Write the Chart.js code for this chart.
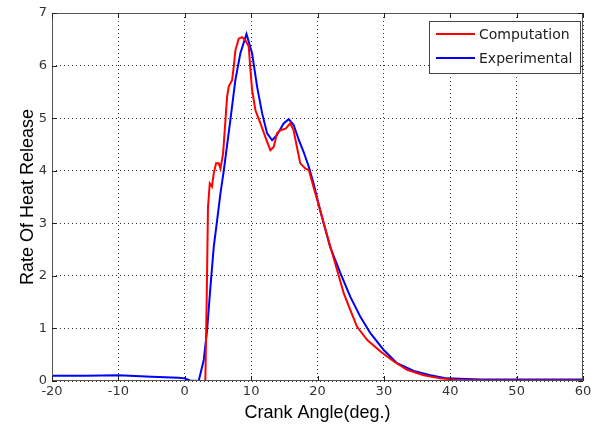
<!DOCTYPE html>
<html>
<head>
<meta charset="utf-8">
<script src="https://cdn.jsdelivr.net/npm/chart.js@4/dist/chart.umd.min.js"></script>
<style>
  html, body { margin: 0; padding: 0; background: #fff; }
  #wrap { width: 601px; height: 428px; }
</style>
</head>
<body>
<div id="wrap"><canvas id="c" width="601" height="428"></canvas></div>
<script>
// crank angle (deg) and rate of heat release
const compAngle = [1.5, 3.1, 3.3, 3.5, 3.77, 4.1, 4.37, 4.72, 5.13, 5.38, 5.78, 6.13, 6.38, 6.63, 7.13, 7.38, 7.63, 8.13, 8.64, 9.14, 9.64, 9.9, 10.15, 10.65, 11.4, 12.15, 12.9, 13.4, 13.9, 14.4, 15.2, 15.9, 16.4, 16.9, 17.4, 18.2, 18.7, 19.4, 20.4, 21.5, 22.95, 23.95, 24.95, 25.96, 27.5, 29.5, 31.5, 33.5, 36, 38.5, 41, 45, 50, 55, 60];
const compRate  = [0, 0, 1.5, 3.3, 3.76, 3.7, 3.95, 4.14, 4.14, 4.04, 4.33, 4.96, 5.41, 5.6, 5.72, 5.98, 6.29, 6.51, 6.54, 6.48, 6.36, 5.91, 5.53, 5.15, 4.9, 4.64, 4.39, 4.45, 4.71, 4.77, 4.8, 4.9, 4.77, 4.45, 4.14, 4.04, 4.01, 3.69, 3.25, 2.75, 2.11, 1.67, 1.35, 1.03, 0.78, 0.56, 0.37, 0.21, 0.11, 0.05, 0.02, 0.01, 0.01, 0.01, 0.01];

const expAngle = [-20, -15, -10, -5, -1, 0, 0.8, 2.1, 2.86, 3.37, 3.87, 4.37, 4.88, 5.38, 5.88, 6.87, 7.62, 8.37, 9.3, 10.15, 10.9, 11.66, 12.41, 13.16, 13.9, 14.9, 15.66, 16.41, 17.2, 17.9, 18.7, 19.4, 20.4, 21.9, 23.45, 24.95, 26.46, 27.97, 29.97, 31.98, 34.5, 37, 39.5, 44.5, 50, 55, 60];
const expRate  = [0.1, 0.1, 0.11, 0.08, 0.06, 0.05, 0.01, 0, 0.4, 0.97, 1.79, 2.55, 3.06, 3.57, 4.0, 4.96, 5.72, 6.23, 6.6, 6.23, 5.6, 5.09, 4.71, 4.58, 4.68, 4.9, 4.98, 4.87, 4.58, 4.36, 4.07, 3.76, 3.25, 2.55, 2.05, 1.6, 1.22, 0.91, 0.59, 0.34, 0.19, 0.11, 0.05, 0.03, 0.03, 0.03, 0.03];

const seriesNames = ["Computation", "Experimental"];
const seriesColors = ["#ff0000", "#0000ff"];

const xTicks = [-20, -10, 0, 10, 20, 30, 40, 50, 60];
const yTicks = [0, 1, 2, 3, 4, 5, 6, 7];

function toPoints(xs, ys) {
    return xs.map((x, i) => ({ x: x, y: ys[i] }));
}

const FONT = "'DejaVu Sans', sans-serif";
const TITLE_FONT = "'Liberation Sans', Arial, sans-serif";

// frame, inward tick marks and the boxed legend
const framePlugin = {
    id: "frame",
    afterDraw(chart) {
        const { ctx, chartArea: a, scales } = chart;
        ctx.save();
        ctx.strokeStyle = "#555";
        ctx.lineWidth = 1;
        ctx.strokeRect(a.left + 0.5, a.top + 0.5, a.right - a.left - 1, a.bottom - a.top - 1);
        ctx.strokeStyle = "#222";
        ctx.beginPath();
        xTicks.forEach(v => {
            const px = Math.round(scales.x.getPixelForValue(v)) + 0.5;
            ctx.moveTo(px, a.bottom); ctx.lineTo(px, a.bottom - 5);
            ctx.moveTo(px, a.top); ctx.lineTo(px, a.top + 5);
        });
        yTicks.forEach(v => {
            const py = Math.round(scales.y.getPixelForValue(v)) + 0.5;
            ctx.moveTo(a.left, py); ctx.lineTo(a.left + 5, py);
            ctx.moveTo(a.right, py); ctx.lineTo(a.right - 5, py);
        });
        ctx.stroke();

        // legend
        const bx = 429, by = 21, bw = 151, bh = 52;
        ctx.fillStyle = "#fff";
        ctx.fillRect(bx, by, bw, bh);
        ctx.strokeStyle = "#444";
        ctx.strokeRect(bx + 0.5, by + 0.5, bw, bh);
        ctx.font = "14px " + FONT;
        ctx.textBaseline = "middle";
        chart.data.datasets.forEach((ds, i) => {
            const y = by + 13 + i * 24;
            ctx.strokeStyle = ds.borderColor;
            ctx.lineWidth = 2;
            ctx.beginPath();
            ctx.moveTo(bx + 7, y); ctx.lineTo(bx + 46, y);
            ctx.stroke();
            ctx.fillStyle = "#222";
            ctx.fillText(ds.label, bx + 50, y + 1);
        });
        ctx.restore();
    }
};

new Chart(document.getElementById("c"), {
    type: "line",
    data: {
        datasets: [
            {
                label: seriesNames[0],
                data: toPoints(compAngle, compRate),
                borderColor: seriesColors[0],
                borderWidth: 2,
                pointRadius: 0,
                tension: 0
            },
            {
                label: seriesNames[1],
                data: toPoints(expAngle, expRate),
                borderColor: seriesColors[1],
                borderWidth: 2,
                pointRadius: 0,
                tension: 0
            }
        ]
    },
    options: {
        responsive: false,
        animation: false,
        layout: { padding: { left: 13, right: 18, top: 13, bottom: 0 } },
        plugins: {
            legend: { display: false },
            tooltip: { enabled: false }
        },
        scales: {
            x: {
                type: "linear",
                min: -20,
                max: 60,
                afterBuildTicks: s => { s.ticks = xTicks.map(v => ({ value: v })); },
                ticks: { color: "#333", font: { size: 13, family: FONT }, padding: 3, maxRotation: 0 },
                grid: { color: "#333", lineWidth: 1, drawTicks: false },
                border: { display: false, dash: [1, 3] },
                title: { display: true, text: "Crank Angle(deg.)", color: "#000", font: { size: 18, family: TITLE_FONT }, padding: { top: 0 } },
                afterFit: s => { s.height = 47; }
            },
            y: {
                min: 0,
                max: 7,
                afterBuildTicks: s => { s.ticks = yTicks.map(v => ({ value: v })); },
                ticks: { color: "#333", font: { size: 13, family: FONT }, padding: 5 },
                grid: { color: "#333", lineWidth: 1, drawTicks: false },
                border: { display: false, dash: [1, 3] },
                title: { display: true, text: "Rate Of Heat Release", color: "#000", font: { size: 18, family: TITLE_FONT }, padding: { bottom: 2 } },
                afterFit: s => { s.width = 39; }
            }
        }
    },
    plugins: [framePlugin]
});
</script>
</body>
</html>
